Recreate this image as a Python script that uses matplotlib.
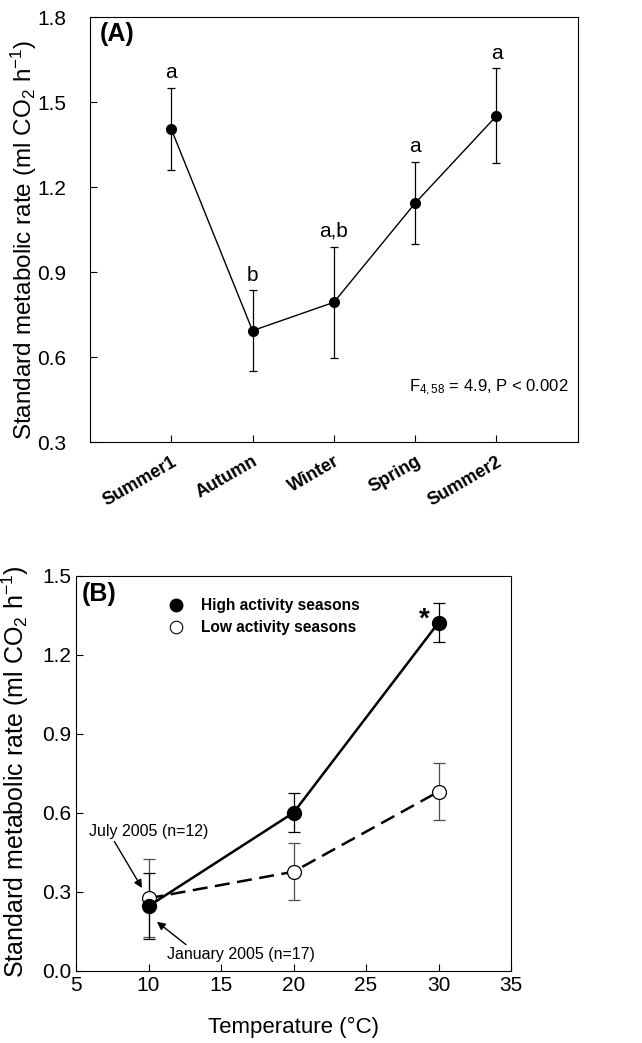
import numpy as np
import matplotlib.pyplot as plt
from matplotlib.lines import Line2D

plt.rcParams['font.family'] = ['Liberation Sans', 'DejaVu Sans']
plt.rcParams['mathtext.fontset'] = 'custom'
plt.rcParams['mathtext.rm'] = 'Liberation Sans'
plt.rcParams['mathtext.it'] = 'Liberation Sans:italic'

# panel A: seasonal SMR
seasons = ['Summer1', 'Autumn', 'Winter', 'Spring', 'Summer2']
smr_season = [1.405, 0.693, 0.793, 1.143, 1.451]
smr_season_err = [0.145, 0.142, 0.197, 0.145, 0.168]
letters = ['a', 'b', 'a,b', 'a', 'a']

# panel B: SMR vs temperature
temps = [10, 20, 30]
high_smr = [0.245, 0.600, 1.322]
high_err = [0.125, 0.074, 0.074]
low_smr = [0.275, 0.376, 0.680]
low_err = [0.148, 0.109, 0.107]

ylab = 'Standard metabolic rate (ml CO$_2$ h$^{-1}$)'

fig = plt.figure(figsize=(6.42, 10.43), dpi=100)

# ---- (A)
ax1 = fig.add_axes([0.140, 0.5762, 0.760, 0.4075])
x = np.arange(1, len(seasons) + 1)
ax1.errorbar(x, smr_season, yerr=smr_season_err, color='k', lw=1, marker='o',
             ms=7, capsize=3, elinewidth=0.9, capthick=0.9)
for xi, v, e, lt in zip(x, smr_season, smr_season_err, letters):
    ax1.text(xi, v + e + 0.02, lt, ha='center', va='bottom', fontsize=15)
ax1.set_xlim(0, 6)
ax1.set_ylim(0.3, 1.8)
ax1.set_yticks([0.3, 0.6, 0.9, 1.2, 1.5, 1.8])
ax1.set_yticklabels(['0.3', '0.6', '0.9', '1.2', '1.5', '1.8'])
ax1.set_xticks(x)
ax1.set_xticklabels(seasons, rotation=30, ha='right', rotation_mode='anchor',
                    fontweight='bold')
ax1.tick_params(direction='in', labelsize=15, length=5)
ax1.tick_params(axis='y', pad=17)
ax1.tick_params(axis='x', labelsize=13, pad=8)
ax1.set_ylabel(ylab, fontsize=17.5)
ax1.yaxis.set_label_coords(-0.104, 0.475)
ax1.text(0.12, 1.74, '(A)', fontsize=18, fontweight='bold', ha='left', va='center')
ax1.text(5.88, 0.49, 'F$_{4,58}$ = 4.9, P < 0.002', fontsize=12, ha='right', va='center')

# ---- (B)
ax2 = fig.add_axes([0.1184, 0.0693, 0.6776, 0.3787])
ax2.errorbar(temps, low_smr, yerr=low_err, color='k', lw=1.8, ls=(0, (6, 3)),
             marker='o', mfc='white', mec='k', mew=0.9, ms=10, capsize=4,
             elinewidth=0.9, capthick=0.9, ecolor='0.3')
ax2.errorbar(temps, high_smr, yerr=high_err, color='k', lw=1.8, marker='o',
             ms=10, capsize=4, elinewidth=0.9, capthick=0.9)
ax2.text(29.4, high_smr[2] + 0.01, '*', fontsize=20, fontweight='bold',
         ha='right', va='center')
ax2.set_xlim(5, 35)
ax2.set_ylim(0, 1.5)
ax2.set_xticks([5, 10, 15, 20, 25, 30, 35])
ax2.set_yticks([0.0, 0.3, 0.6, 0.9, 1.2, 1.5])
ax2.set_yticklabels(['0.0', '0.3', '0.6', '0.9', '1.2', '1.5'])
ax2.tick_params(direction='in', labelsize=15, length=5)
ax2.set_xlabel('Temperature (°C)', fontsize=16, labelpad=16)
ax2.set_ylabel(ylab, fontsize=18)
ax2.yaxis.set_label_coords(-0.104, 0.504)
ax2.text(5.4, 1.43, '(B)', fontsize=18, fontweight='bold', ha='left', va='center')

handles = [Line2D([], [], ls='none', marker='o', color='k', ms=9),
           Line2D([], [], ls='none', marker='o', mfc='white', mec='k', mew=0.8, ms=9)]
ax2.legend(handles, ['High activity seasons', 'Low activity seasons'],
           loc='upper left', bbox_to_anchor=(0.17, 0.97), frameon=False,
           prop={'weight': 'bold', 'size': 11.2}, handletextpad=0.6,
           labelspacing=0.45, borderpad=0.2)

ax2.annotate('July 2005 (n=12)', xy=(9.55, 0.314), xytext=(10.0, 0.53),
             fontsize=11.5, ha='center', va='center',
             arrowprops=dict(arrowstyle='-|>', color='k', lw=1, shrinkA=0, shrinkB=0,
                             mutation_scale=12, relpos=(0.2, 0.0)))
ax2.annotate('January 2005 (n=17)', xy=(10.58, 0.186), xytext=(11.3, 0.06),
             fontsize=11.5, ha='left', va='center',
             arrowprops=dict(arrowstyle='-|>', color='k', lw=1, shrinkA=0, shrinkB=0,
                             mutation_scale=12, relpos=(0.15, 1.0)))

fig.savefig('out.png', dpi=100)
